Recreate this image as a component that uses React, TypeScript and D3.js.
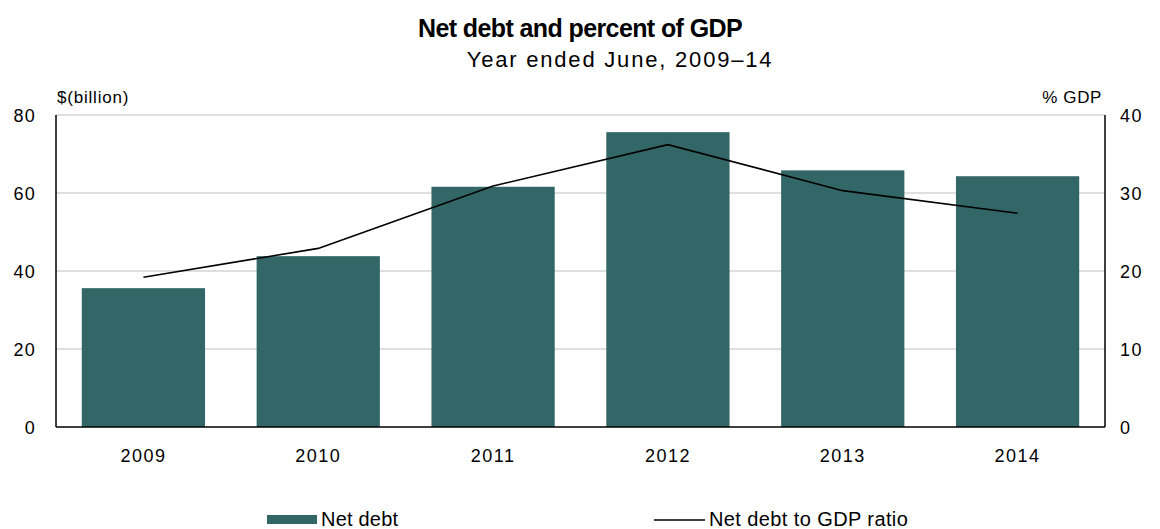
import React from "react";
import * as d3 from "d3";

const years = ["2009", "2010", "2011", "2012", "2013", "2014"];
const netDebt = [35.6, 43.8, 61.6, 75.6, 65.8, 64.3];
const debtToGdp = [19.2, 22.9, 30.9, 36.2, 30.3, 27.4];
const leftTicks = [0, 20, 40, 60, 80];
const rightTicks = [0, 10, 20, 30, 40];

const W = 1160;
const H = 529;
const M = { left: 56, right: 1105, top: 115, bottom: 427 };
const FONT = "'Liberation Sans', Arial, sans-serif";

export default function App() {
  const x = d3.scaleBand<string>().domain(years).range([M.left, M.right]).paddingInner(0.295).paddingOuter(0.1475);
  const yL = d3.scaleLinear().domain([0, 80]).range([M.bottom, M.top]);
  const yR = d3.scaleLinear().domain([0, 40]).range([M.bottom, M.top]);
  const line = d3
    .line<number>()
    .x((_, i) => (x(years[i]) as number) + x.bandwidth() / 2)
    .y((d) => yR(d));

  return (
    <svg width={W} height={H} style={{ position: "absolute", left: 0, top: 0, background: "#fff" }} fontFamily={FONT}>
      <text x={580} y={37} textAnchor="middle" fontSize={25} fontWeight="bold" letterSpacing={-0.6} fill="#000">
        Net debt and percent of GDP
      </text>
      <text x={620} y={67} textAnchor="middle" fontSize={22} letterSpacing={1.8} fill="#000">
        Year ended June, 2009–14
      </text>
      <text x={57} y={103} fontSize={17} letterSpacing={0.8} fill="#000">$(billion)</text>
      <text x={1102} y={103} textAnchor="end" fontSize={17} letterSpacing={0.6} fill="#000">% GDP</text>

      {leftTicks.filter((t) => t > 0).map((t) => (
        <line key={t} x1={M.left} x2={M.right} y1={yL(t)} y2={yL(t)} stroke="#d4d4d4" strokeWidth={1.5} />
      ))}

      {years.map((yr, i) => (
        <rect
          key={yr}
          x={x(yr)}
          y={yL(netDebt[i])}
          width={x.bandwidth()}
          height={yL(0) - yL(netDebt[i])}
          fill="#336666"
        />
      ))}

      <path d={line(debtToGdp) || ""} fill="none" stroke="#000" strokeWidth={1.6} />

      <line x1={M.left} x2={M.left} y1={M.top} y2={M.bottom} stroke="#000" strokeWidth={1.5} />
      <line x1={M.right} x2={M.right} y1={M.top} y2={M.bottom} stroke="#000" strokeWidth={1.5} />
      <line x1={M.left} x2={M.right} y1={M.bottom} y2={M.bottom} stroke="#000" strokeWidth={1.5} />

      {leftTicks.map((t) => (
        <text key={t} x={36} y={yL(t) + 7} textAnchor="end" fontSize={18} letterSpacing={1.2} fill="#000">{t}</text>
      ))}
      {rightTicks.map((t) => (
        <text key={t} x={1120} y={yR(t) + 7} textAnchor="start" fontSize={18} letterSpacing={1.5} fill="#000">{t}</text>
      ))}
      {years.map((yr) => (
        <text key={yr} x={(x(yr) as number) + x.bandwidth() / 2} y={462} textAnchor="middle" fontSize={18} letterSpacing={1.5} fill="#000">
          {yr}
        </text>
      ))}

      <rect x={267} y={515} width={50} height={9} fill="#336666" />
      <text x={321} y={526} fontSize={20} letterSpacing={0.2} fill="#000">Net debt</text>
      <line x1={654} x2={705} y1={520} y2={520} stroke="#000" strokeWidth={1.6} />
      <text x={709} y={526} fontSize={20} letterSpacing={0.4} fill="#000">Net debt to GDP ratio</text>
    </svg>
  );
}
